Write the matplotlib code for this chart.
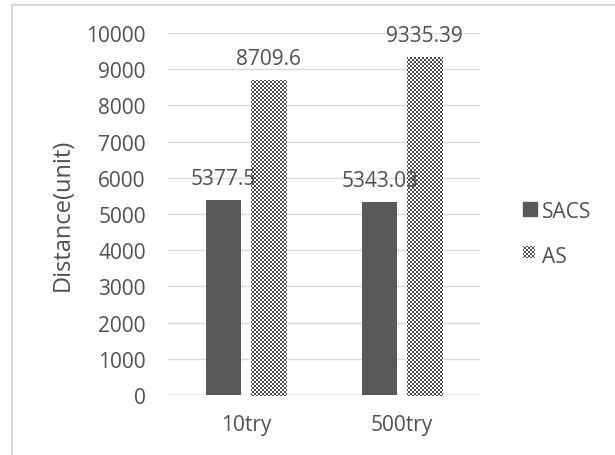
import numpy as np
import matplotlib
matplotlib.use("Agg")
import matplotlib.pyplot as plt
from matplotlib.patches import Rectangle
from matplotlib.transforms import offset_copy

# data
categories = ["10try", "500try"]
series = ["SACS", "AS"]
sacs = [5377.5, 5343.03]
as_vals = [8709.6, 9335.39]
sacs_labels = ["5377.5", "5343.03"]
as_labels = ["8709.6", "9335.39"]

plt.rcParams['font.family'] = ['Open Sans', 'DejaVu Sans']
text_color = '#505050'
grid_color = '#d9d9d9'
bar_color = '#595959'

W, H, DPI = 615, 456, 100
fig = plt.figure(figsize=(W / DPI, H / DPI), dpi=DPI)
ax = fig.add_axes([168 / W, 60 / H, (480 - 168) / W, (396 - 34) / H])

x = np.arange(len(categories))
width = 0.224
off = 0.143

b1 = ax.bar(x - off, sacs, width, color=bar_color, zorder=2)
b2 = ax.bar(x + off, as_vals, width, color='white', zorder=2)

ax.set_ylim(0, 10000)
ax.set_xlim(-0.5, 1.5)
ax.set_yticks(np.arange(0, 10001, 1000))
ax.set_xticks(x)
ax.set_xticklabels(categories)
ax.yaxis.grid(True, color=grid_color, lw=1.0, zorder=0)
ax.set_axisbelow(True)
for s in ax.spines.values():
    s.set_visible(False)
ax.axhline(0, color=grid_color, lw=1.0, zorder=1)
ax.tick_params(axis='both', length=0, labelsize=15, colors=text_color)
ax.tick_params(axis='y', pad=16)
ax.tick_params(axis='x', pad=14)
ax.set_ylabel("Distance(unit)", fontsize=17, color=text_color, labelpad=8)

# value labels sit at figure level so they stay on top of the pattern fill
lab_tr = offset_copy(ax.transData, fig=fig, y=11.5, units='points')
for bars, labels in ((b1, sacs_labels), (b2, as_labels)):
    for rect, lab in zip(bars, labels):
        fig.text(rect.get_x() + rect.get_width() / 2, rect.get_height(), lab,
                 transform=lab_tr, ha='center', va='baseline', fontsize=15,
                 color=text_color, zorder=3)

# legend
sw1 = Rectangle((522.7 / W, 1 - 216.7 / H), 14 / W, 14 / H,
                transform=fig.transFigure, color=bar_color)
sw2 = Rectangle((522.7 / W, 1 - 258 / H), 11.5 / W, 11.5 / H,
                transform=fig.transFigure, color='white')
fig.add_artist(sw1)
fig.add_artist(sw2)
fig.text(541.5 / W, 1 - 218 / H, series[0], fontsize=15, color=text_color,
         va='baseline', zorder=3)
fig.text(541.5 / W, 1 - 263 / H, series[1], fontsize=15, color=text_color,
         va='baseline', zorder=3)

# 2-pixel checkerboard fill for the AS series
yy, xx = np.mgrid[0:H, 0:W]
checker = np.where(((xx // 2) + (yy // 2)) % 2 == 0, 0.29, 1.0)
checker_rgb = np.dstack([checker] * 3)
for patch in list(b2) + [sw2]:
    im = fig.figimage(checker_rgb, 0, 0, zorder=1)
    im.set_clip_path(patch)

# outer chart frame
fig.add_artist(Rectangle((11.5 / W, -0.1), 1.0, 1.1 - 5.5 / H,
                         transform=fig.transFigure, fill=False,
                         ec=grid_color, lw=1.5))

fig.savefig("out.png", dpi=DPI)
